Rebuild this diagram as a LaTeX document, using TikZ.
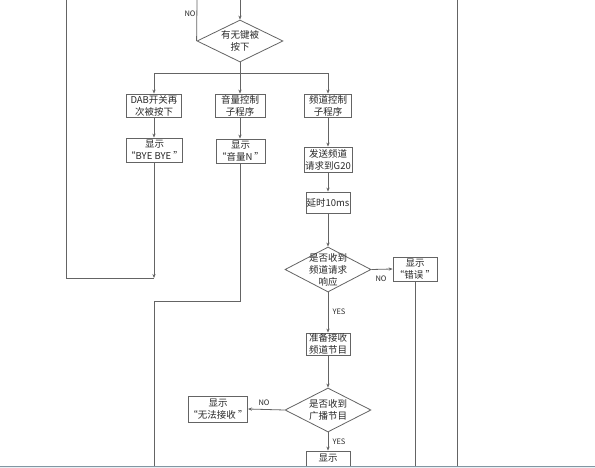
\documentclass[tikz,border=0pt]{standalone}
\usepackage{fontspec}
\setmainfont{Noto Sans CJK SC}
\usetikzlibrary{arrows.meta,shapes.geometric}
\definecolor{ln}{RGB}{100,100,100}
\definecolor{tx}{RGB}{40,40,40}
\definecolor{band}{RGB}{232,240,244}
\definecolor{bandline}{RGB}{130,150,162}
\tikzset{
  box/.style={draw=ln, line width=0.8pt, rectangle, inner sep=0pt, align=center, text=tx,
    font=\fontsize{9.5}{12}\selectfont},
  dia/.style={draw=ln, line width=0.8pt, diamond, inner sep=0pt},
  dtext/.style={align=center, text=tx, inner sep=0pt, font=\fontsize{9.5}{12}\selectfont},
  lab/.style={text=tx, inner sep=0pt, font=\fontsize{7.5}{9}\selectfont},
  conn/.style={draw=ln, line width=0.8pt},
  arr/.style={conn, -{Stealth[length=4pt,width=3.2pt]}}
}
\begin{document}
\begin{tikzpicture}[x=1pt,y=-1pt]
\useasboundingbox (0,0) rectangle (595,468);
\fill[white] (0,0) rectangle (595,468);

% decision 1
\node[dia, minimum width=86pt, minimum height=42pt] (d1) at (240,41) {};
\node[dtext] (d1t) at (240,41) {有无键被\\按下};

% boxes
\node[box, minimum width=55pt, minimum height=23pt] (b1) at (154,105.5) {DAB开关再\\次被按下};
\node[box, minimum width=50pt, minimum height=23pt] (b2) at (240,105.5) {音量控制\\子程序};
\node[box, minimum width=47pt, minimum height=23pt] (b3) at (328,105.5) {频道控制\\子程序};
\node[box, minimum width=53pt, minimum height=24pt] (b4) at (154.5,150) {显示\\“BYE BYE ”};
\node[box, minimum width=49pt, minimum height=24pt] (b5) at (240.5,151) {显示\\“音量N ”};
\node[box, minimum width=48pt, minimum height=25pt] (b6) at (328,159.5) {发送频道\\请求到G20};
\node[box, minimum width=44pt, minimum height=21pt] (b7) at (328,202.5) {延时10ms};

\node[dia, minimum width=86pt, minimum height=45pt] (d2) at (328,269.5) {};
\node[dtext] (d2t) at (328,269.5) {是否收到\\频道请求\\响应};

\node[box, minimum width=44pt, minimum height=24pt] (b8) at (415,269) {显示\\“错误 ”};
\node[box, minimum width=44pt, minimum height=22pt] (b9) at (328,344) {准备接收\\频道节目};

\node[dia, minimum width=86pt, minimum height=44pt] (d3) at (328,410) {};
\node[dtext] (d3t) at (328,410) {是否收到\\广播节目};

\node[box, minimum width=56pt, minimum height=26pt] (b10) at (218,409) {显示\\“无法接收 ”};
\node[box, minimum width=44pt, minimum height=30pt, text depth=0pt] (b11) at (328,466) {};
\node[dtext] (b11t) at (328,458) {显示};

% coordinates
\coordinate (t1) at (240,0);
\coordinate (t2) at (197,0);
\coordinate (j) at (240,73);
\coordinate (c1) at (154,278);
\coordinate (c2) at (66,278);
\coordinate (c3) at (66,0);
\coordinate (v1) at (240.5,301);
\coordinate (v2) at (154,301);
\coordinate (v3) at (154,468);
\coordinate (e1) at (415,468);
\coordinate (r1) at (457,0);
\coordinate (r2) at (457,468);

% connectors
\draw[arr] (t1) -- (d1.north);
\draw[conn] (d1.west) -- (t2);
\node[lab] (no1) at (190,14) {NO};
\draw[conn] (d1.south) -- (j);
\draw[arr] (j) -| (b1.north);
\draw[arr] (j) -| (b3.north);
\draw[arr] (j) -- (b2.north);
\draw[arr] (b1.south) -- (b1.south |- b4.north);
\draw[arr] (b2.south) -- (b2.south |- b5.north);
\draw[arr] (b4.south -| c1) -- (c1);
\draw[conn] (c1) -- (c2) -- (c3);
\draw[conn] (b5.south) -- (v1) -- (v2) -- (v3);
\draw[arr] (b3.south) -- (b6.north);
\draw[arr] (b6.south) -- (b7.north);
\draw[arr] (b7.south) -- (d2.north);
\draw[arr] (d2.east) -- (b8.west);
\node[lab] (no2) at (381,279) {NO};
\draw[conn] (b8.south) -- (e1);
\draw[arr] (d2.south) -- (b9.north);
\node[lab] (yes1) at (339,312) {YES};
\draw[arr] (b9.south) -- (d3.north);
\draw[arr] (d3.west) -- (b10.east);
\node[lab] (no3) at (264,403) {NO};
\draw[arr] (d3.south) -- (b11.north);
\node[lab] (yes2) at (339,442) {YES};
\draw[conn] (r1) -- (r2);

% bottom band
\fill[band] (0,466) rectangle (595,468);
\draw[bandline, line width=0.8pt] (0,466) -- (595,466);
\end{tikzpicture}
\end{document}
